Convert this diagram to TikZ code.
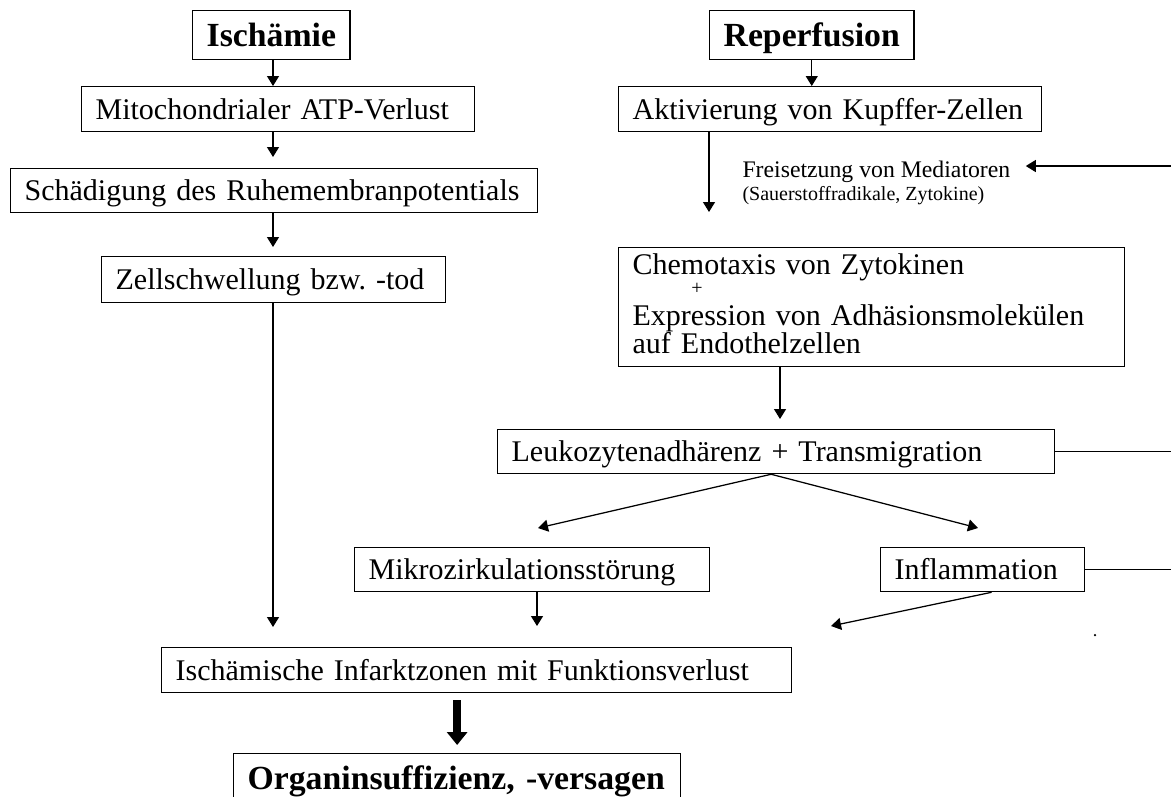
\documentclass[tikz,border=0pt]{standalone}
\usepackage{fontspec}
\setmainfont{Liberation Serif}
\usetikzlibrary{arrows.meta}

\begin{document}
\begin{tikzpicture}[x=0.4pt, y=-0.4pt,
    block/.style={draw, line width=0.5pt, anchor=north west, align=left, inner xsep=5.6pt, inner ysep=0pt, minimum height=17.6pt, font=\fontsize{12}{11.2}\selectfont},
    kasten/.style={block, text height=8.6pt, text depth=0.6pt},
    titel/.style={block, minimum height=19.6pt, text height=9.6pt, text depth=0.8pt, font=\fontsize{13.5}{15}\selectfont\bfseries},
    pfeil/.style={line width=0.5pt, -{Triangle[width=4.8pt,length=4pt]}},
    dickpfeil/.style={line width=3.2pt, -{Triangle[width=8pt,length=5.2pt]}},
    linie/.style={line width=0.5pt}]
    \useasboundingbox (0,0) rectangle (1171,796);
    \clip (0,0) rectangle (1171,796);
    % left column
    \node[titel]                                             (isch)    at (192,10)  {Ischämie};
    \node[kasten, minimum height=18pt, text width=146pt]     (mito)    at (81,86)   {Mitochondrialer ATP-Verlust};
    \node[kasten, text width=199.6pt]                        (schaed)  at (10,168)  {Schädigung des Ruhemembranpotentials};
    \node[kasten, minimum height=18.4pt, text width=126.4pt] (zell)    at (101,256) {Zellschwellung bzw.\ -tod};
    % right column
    \node[titel]                                             (reperf)  at (709,10)  {Reperfusion};
    \node[kasten, minimum height=18pt, text width=158pt]     (kupffer) at (618,86)  {Aktivierung von Kupffer-Zellen};
    \node[anchor=base west, inner xsep=6pt, inner ysep=0pt, font=\fontsize{9.5}{11}\selectfont] (frei) at (727,177) {Freisetzung von Mediatoren};
    \node[anchor=base west, inner sep=0pt, font=\fontsize{8}{9}\selectfont] (sauer) at (742,200) {(Sauerstoffradikale, Zytokine)};
    \node[block, minimum height=47.6pt, text width=191.2pt]  (chemo)   at (618,247)
        {Chemotaxis von Zytokinen\\[-3pt]
         \hspace*{23.5pt}{\fontsize{8}{9}\selectfont +}\\[1pt]
         Expression von Adhäsionsmolekülen\\
         auf Endothelzellen\rule[-3pt]{0pt}{0pt}};
    \node[kasten, text width=211.6pt]                        (leuk)    at (497,429) {Leukozytenadhärenz + Transmigration};
    \node[kasten, text width=130.8pt]                        (mikro)   at (354,547) {Mikrozirkulationsstörung};
    \node[kasten, text width=70.4pt]                         (inflam)  at (880,547) {Inflammation};
    % bottom
    \node[kasten, minimum height=18pt, text width=240.8pt]   (infarkt) at (161,647) {Ischämische Infarktzonen mit Funktionsverlust};
    \node[titel, text width=167.6pt]                         (organ)   at (233,753) {Organinsuffizienz, -versagen};
    % loose ends
    \coordinate (lx)   at (273,0);
    \coordinate (cx)   at (780,0);
    \coordinate (mx)   at (537,0);
    \coordinate (rand) at (1171,0);
    \coordinate (r1)   at (1171,166);
    \coordinate (k1)   at (709,212);
    \coordinate (m1)   at (538,528);
    \coordinate (i1)   at (978,528);
    \coordinate (f1)   at (831,626);
    % arrows left
    \draw[pfeil] (isch.south -| lx) -- (mito.north -| lx);
    \draw[pfeil, shorten >=4.4pt] (mito.south -| lx) -- (schaed.north -| lx);
    \draw[pfeil, shorten >=3.6pt] (schaed.south -| lx) -- (zell.north -| lx);
    \draw[pfeil, shorten >=8pt] (zell.south -| lx) -- (infarkt.north -| lx);
    % arrows right
    \draw[pfeil] (reperf.south) -- (reperf.south |- kupffer.north);
    \draw[pfeil] (kupffer.south -| k1) -- (k1);
    \draw[pfeil] (r1) -- (r1 -| frei.east);
    \draw[pfeil, shorten >=4pt] (chemo.south -| cx) -- (leuk.north -| cx);
    \draw[linie] (leuk.east) -- (leuk.east -| rand);
    \draw[pfeil] ([xshift=-2pt]leuk.south) -- (m1);
    \draw[pfeil] ([xshift=-2pt]leuk.south) -- (i1);
    \draw[linie] (inflam.east) -- (inflam.east -| rand);
    \draw[pfeil, shorten >=8.4pt] (mikro.south -| mx) -- (infarkt.north -| mx);
    \draw[pfeil] ([xshift=3.6pt]inflam.south) -- (f1);
    \fill (1095,635) circle (0.5pt);
    \draw[dickpfeil, shorten <=2.8pt, shorten >=3.2pt] (infarkt.south -| organ.north) -- (organ.north);
\end{tikzpicture}
\end{document}
